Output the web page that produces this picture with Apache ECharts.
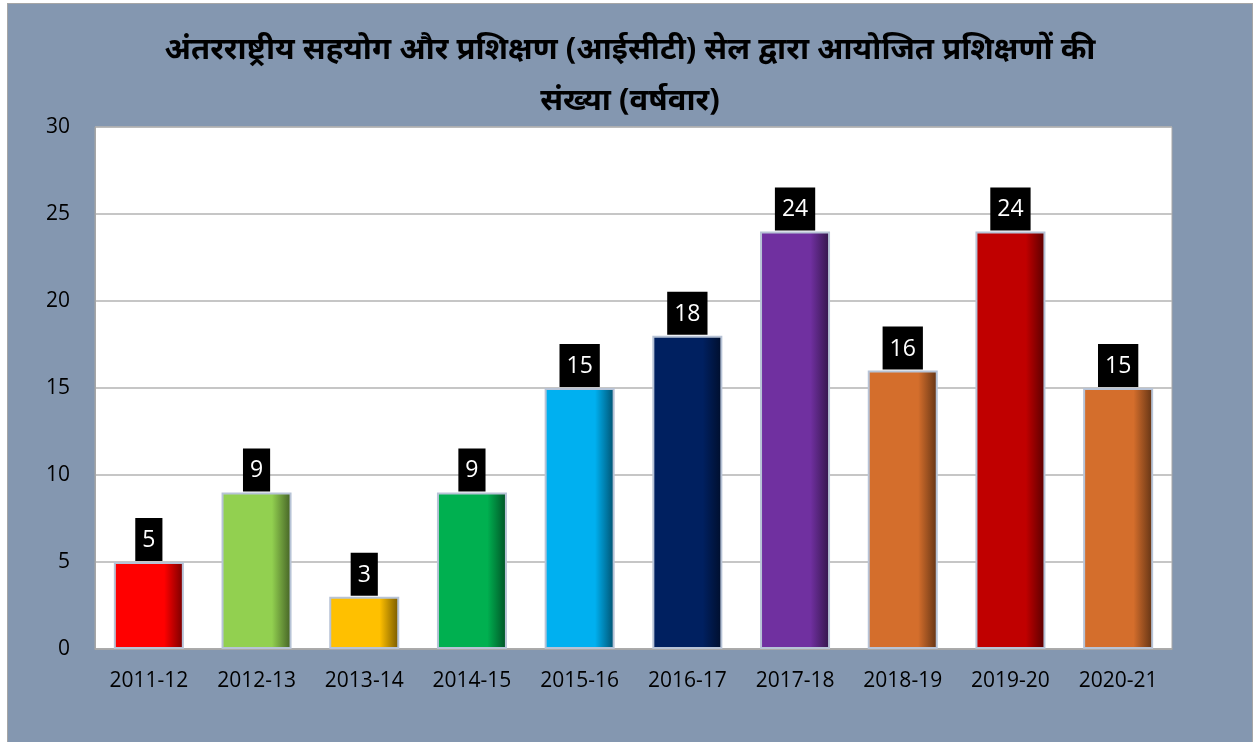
<!DOCTYPE html>
<html>
<head>
<meta charset="utf-8">
<script src="https://cdn.jsdelivr.net/npm/echarts@6/dist/echarts.min.js"></script>
<style>
  html, body { margin: 0; padding: 0; background: #fff; }
  #frame {
    position: absolute; left: 7px; top: 3px; width: 1244px; height: 739px;
    background: #8497b0; border: 1px solid #a6a6a6; border-bottom: none;
  }
  #chart { width: 100%; height: 100%; }
</style>
</head>
<body>
<div id="frame"><div id="chart"></div></div>
<script>
const titleText = 'अंतरराष्ट्रीय सहयोग और प्रशिक्षण (आईसीटी) सेल द्वारा आयोजित प्रशिक्षणों की\nसंख्या (वर्षवार)'
const years = ['2011-12', '2012-13', '2013-14', '2014-15', '2015-16', '2016-17', '2017-18', '2018-19', '2019-20', '2020-21']
const trainings = [5, 9, 3, 9, 15, 18, 24, 16, 24, 15]
const barColors = ['#ff0000', '#92d050', '#ffc000', '#00b050', '#00b0f0', '#002060', '#7030a0', '#d46e2c', '#c00000', '#d46e2c']

// darker shade for the right edge of each bar
function shade(hex, f) {
  const n = parseInt(hex.slice(1), 16)
  const r = Math.round(((n >> 16) & 255) * f)
  const g = Math.round(((n >> 8) & 255) * f)
  const b = Math.round((n & 255) * f)
  return `rgb(${r},${g},${b})`
}

const chart = echarts.init(document.getElementById('chart'))
chart.setOption({
  animation: false,
  title: {
    text: titleText,
    left: 'center',
    top: 16,
    textStyle: {
      fontFamily: 'Noto Sans, sans-serif',
      fontSize: 31,
      fontWeight: 'bold',
      color: '#000',
      lineHeight: 51
    }
  },
  grid: {
    left: 87, right: 80, top: 123, bottom: 94,
    show: true, backgroundColor: '#fff', borderColor: '#a6a6a6', borderWidth: 1
  },
  xAxis: {
    type: 'category',
    data: years,
    axisTick: { show: false },
    axisLine: { lineStyle: { color: '#a6a6a6', width: 1.5 } },
    axisLabel: { color: '#000', fontSize: 21, fontFamily: 'Open Sans, sans-serif', margin: 22 }
  },
  yAxis: {
    type: 'value',
    min: 0,
    max: 30,
    interval: 5,
    axisLine: { show: true, lineStyle: { color: '#a6a6a6' } },
    splitLine: { lineStyle: { color: '#b3b3b3', width: 1.5 } },
    axisLabel: { color: '#000', fontSize: 21, fontFamily: 'Open Sans, sans-serif', margin: 25 }
  },
  series: [{
    type: 'bar',
    barWidth: '65%',
    data: trainings.map((v, i) => ({
      value: v,
      itemStyle: {
        color: new echarts.graphic.LinearGradient(0, 0, 1, 0, [
          { offset: 0, color: barColors[i] },
          { offset: 0.72, color: barColors[i] },
          { offset: 1, color: shade(barColors[i], 0.45) }
        ]),
        borderColor: '#b7c3d6',
        borderWidth: 2
      }
    })),
    label: {
      show: true,
      position: 'top',
      distance: 1,
      color: '#fff',
      backgroundColor: '#000',
      fontSize: 23,
      fontFamily: 'Open Sans, sans-serif',
      padding: [11, 7, 9, 7]
    }
  }]
})
</script>
</body>
</html>
